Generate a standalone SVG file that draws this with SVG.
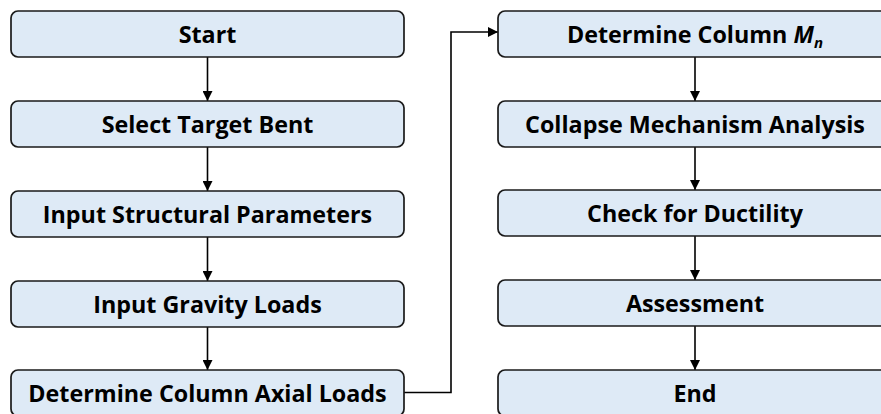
<svg xmlns="http://www.w3.org/2000/svg" width="881" height="414" viewBox="0 0 881 414">
<style>
.box{fill:#deeaf6;stroke:#1a1a1a;stroke-width:1.7}
.t{font-family:"Open Sans","Liberation Sans",sans-serif;font-weight:bold;font-size:23.3px;fill:#000;text-anchor:middle}
.c{fill:none;stroke:#000;stroke-width:1.6}
</style>
<defs>
<marker id="ah" viewBox="0 0 10 10" refX="10" refY="5" markerWidth="10" markerHeight="10" markerUnits="userSpaceOnUse" orient="auto">
<path d="M0,0 L10,5 L0,10 Z" fill="#000"/>
</marker>
</defs>
<rect width="881" height="414" fill="#fff"/>
<g id="connectors">
<line class="c" x1="207.5" y1="57" x2="207.5" y2="101" marker-end="url(#ah)"/>
<line class="c" x1="207.5" y1="147" x2="207.5" y2="191" marker-end="url(#ah)"/>
<line class="c" x1="207.5" y1="237" x2="207.5" y2="281" marker-end="url(#ah)"/>
<line class="c" x1="207.5" y1="327" x2="207.5" y2="370" marker-end="url(#ah)"/>
<polyline class="c" points="404,392.5 451,392.5 451,32 498,32" marker-end="url(#ah)"/>
<line class="c" x1="695" y1="57" x2="695" y2="101" marker-end="url(#ah)"/>
<line class="c" x1="695" y1="147" x2="695" y2="190" marker-end="url(#ah)"/>
<line class="c" x1="695" y1="236" x2="695" y2="280" marker-end="url(#ah)"/>
<line class="c" x1="695" y1="326" x2="695" y2="370" marker-end="url(#ah)"/>
</g>
<g id="start"><rect class="box" x="11" y="11" width="393" height="46" rx="7"/><text class="t" x="207.5" y="43">Start</text></g>
<g id="select"><rect class="box" x="11" y="101" width="393" height="46" rx="7"/><text class="t" x="207.5" y="133">Select Target Bent</text></g>
<g id="structural"><rect class="box" x="11" y="191" width="393" height="46" rx="7"/><text class="t" x="207.5" y="223">Input Structural Parameters</text></g>
<g id="gravity"><rect class="box" x="11" y="281" width="393" height="46" rx="7"/><text class="t" x="207.5" y="313">Input Gravity Loads</text></g>
<g id="axial"><rect class="box" x="11" y="370" width="393" height="46" rx="7"/><text class="t" x="207.5" y="402">Determine Column Axial Loads</text></g>
<g id="mn"><rect class="box" x="498" y="11" width="394" height="46" rx="7"/><text class="t" x="695" y="43">Determine Column <tspan font-style="italic">M</tspan><tspan font-style="italic" font-size="15" dy="5">n</tspan></text></g>
<g id="collapse"><rect class="box" x="498" y="101" width="394" height="46" rx="7"/><text class="t" x="695" y="133">Collapse Mechanism Analysis</text></g>
<g id="ductility"><rect class="box" x="498" y="190" width="394" height="46" rx="7"/><text class="t" x="695" y="222">Check for Ductility</text></g>
<g id="assessment"><rect class="box" x="498" y="280" width="394" height="46" rx="7"/><text class="t" x="695" y="312">Assessment</text></g>
<g id="end"><rect class="box" x="498" y="370" width="394" height="46" rx="7"/><text class="t" x="695" y="402">End</text></g>
</svg>
